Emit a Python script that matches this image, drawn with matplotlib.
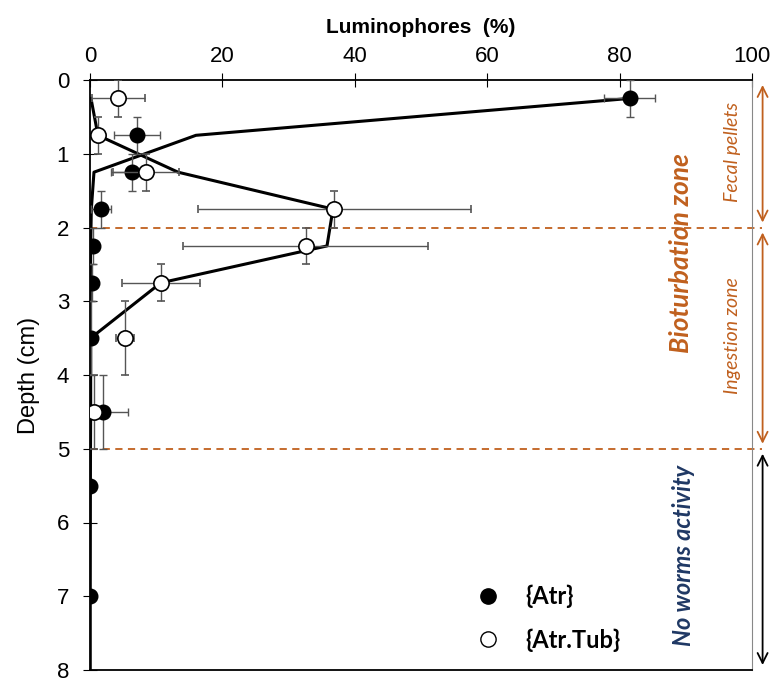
import matplotlib.pyplot as plt
from matplotlib.lines import Line2D

# measured layers (depth mid-points, cm)
depth_atr = [0.25, 0.75, 1.25, 1.75, 2.25, 2.75, 3.5, 4.5, 5.5, 7.0]
atr = [81.5, 7.1, 6.3, 1.7, 0.4, 0.3, 0.1, 1.9, 0.0, 0.0]
atr_xerr = [3.8, 3.4, 3.1, 1.5, 0, 0, 0, 3.9, 0, 0]
atr_yerr = [0.25, 0.25, 0.25, 0.25, 0.25, 0.25, 0.5, 0.5, 0, 0]

depth_tub = [0.25, 0.75, 1.25, 1.75, 2.25, 2.75, 3.5, 4.5]
tub = [4.3, 1.2, 8.5, 36.9, 32.6, 10.7, 5.3, 0.6]
tub_xerr = [4.0, 0, 5.0, 20.6, 18.5, 5.9, 1.3, 0.5]
tub_yerr = [0.25, 0.25, 0.25, 0.25, 0.25, 0.25, 0.5, 0.5]

# model fits
fit_depth = [0.25, 0.75, 1.25, 1.75, 2.25, 2.75, 3.5, 4.5, 5.5, 7.0, 8.0]
fit_atr = [81.5, 16.0, 0.6, 0.2, 0.1, 0.05, 0.0, 0.0, 0.0, 0.0, 0.0]
fit_tub = [0.15, 1.2, 13.3, 36.7, 35.8, 10.7, 0.1, 0.1, 0.05, 0.0, 0.0]

brown = "#C0601E"
navy = "#1F3864"

plt.rcParams["font.family"] = ["Liberation Sans", "DejaVu Sans"]

fig = plt.figure(figsize=(7.72, 6.82), dpi=100)
ax = fig.add_axes([90 / 772, 12 / 682, 662 / 772, 590 / 682])

ax.plot(fit_atr, fit_depth, color="black", lw=2.2, zorder=3)
ax.plot(fit_tub, fit_depth, color="black", lw=2.2, zorder=3)

ax.errorbar(atr, depth_atr, xerr=atr_xerr, yerr=atr_yerr, fmt="o", ms=10.5,
            mfc="black", mec="black", ecolor="#555555", elinewidth=1,
            capsize=3, zorder=4)
ax.errorbar(tub, depth_tub, xerr=tub_xerr, yerr=tub_yerr, fmt="o", ms=11,
            mfc="white", mec="black", mew=1.2, ecolor="#555555", elinewidth=1,
            capsize=3, zorder=5)

ax.set_xlim(0, 100)
ax.set_ylim(8, 0)
ax.set_xticks([0, 20, 40, 60, 80, 100])
ax.set_yticks(range(0, 9))
ax.xaxis.tick_top()
ax.xaxis.set_label_position("top")
ax.tick_params(axis="x", direction="inout", length=10, labelsize=16, pad=4)
ax.tick_params(axis="y", direction="inout", length=10, labelsize=16, pad=10)
ax.set_xlabel("Luminophores  (%)", fontsize=15, fontweight="bold", labelpad=10)
ax.set_ylabel("Depth (cm)", fontsize=17, labelpad=12)
for s in ["top", "left", "bottom"]:
    ax.spines[s].set_linewidth(1.3)
ax.spines["right"].set_color("#888888")

# zone boundaries
for d in [2, 5]:
    ax.plot([0, 101.5], [d, d], color=brown, ls=(0, (4, 3)), lw=1.3,
            clip_on=False, zorder=2)

arrow_x = 101.6
for y0, y1, c in [(0, 2, brown), (2, 5, brown), (5, 8, "black")]:
    ax.annotate("", xy=(arrow_x, y0 + 0.03), xytext=(arrow_x, y1 - 0.03),
                arrowprops=dict(arrowstyle="<->", color=c, lw=1.3,
                                mutation_scale=18),
                annotation_clip=False)

ax.text(89.2, 2.35, "Bioturbation zone", rotation=90, color=brown,
        fontsize=19, fontweight="bold", style="italic", family="Lato",
        ha="center", va="center")
ax.text(97.1, 0.97, "Fecal pellets", rotation=90, color=brown,
        fontsize=14, style="italic", family="Lato", ha="center", va="center")
ax.text(97.1, 3.47, "Ingestion zone", rotation=90, color=brown,
        fontsize=14, style="italic", family="Lato", ha="center", va="center")
ax.text(89.6, 6.45, "No worms activity", rotation=90, color=navy,
        fontsize=17, fontweight="bold", style="italic", family="Lato",
        ha="center", va="center")

handles = [
    Line2D([], [], ls="none", marker="o", ms=11, mfc="black", mec="black"),
    Line2D([], [], ls="none", marker="o", ms=11, mfc="white", mec="black"),
]
ax.legend(handles, ["{Atr}", "{Atr.Tub}"], loc="lower left",
          bbox_to_anchor=(0.533, -0.005), frameon=False, labelspacing=0.85,
          handletextpad=0.6, prop={"family": "Lato", "weight": "bold", "size": 17})

fig.savefig("out.png", dpi=100)
